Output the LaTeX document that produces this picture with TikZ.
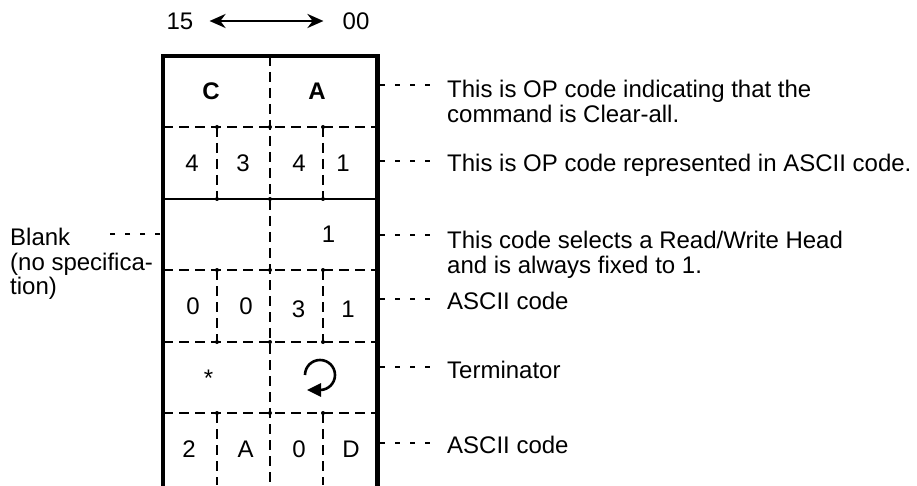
\documentclass[tikz,border=0pt]{standalone}
\usepackage{fontspec}
\setmainfont{Liberation Sans}
\usetikzlibrary{arrows.meta, positioning, calc}
\newcommand{\bigtext}{\fontsize{24}{24.5}\selectfont}
\newcommand{\crosspt}[2]{% x, y
    \fill (#1,#2) circle (2pt);
}

\begin{document}
\begin{tikzpicture}[x=1pt, y=1pt,
    frame/.style={line width=4.5pt, line join=miter},
    cellrule/.style={line width=2.4pt, dash pattern=on 10pt off 6pt},
    fullrule/.style={line width=2.2pt},
    leader/.style={line width=2pt, dash pattern=on 5pt off 10pt},
    cell/.style={font=\bigtext, inner sep=0pt},
    note/.style={font=\bigtext, align=left, inner sep=0pt, anchor=north west},
    arr/.style={{Stealth[length=16pt, width=14pt]}-{Stealth[length=16pt, width=14pt]}, line width=2.6pt},
    turnarr/.style={-{Triangle[length=14pt, width=13pt]}, line width=2.6pt}
]
\useasboundingbox (0,0) rectangle (917,485);

% ===================================================================
% BIT ORDER (top)
% ===================================================================
\node[cell] (msb) at (180,464) {15};
\node[cell] (lsb) at (356,464) {00};
\draw[arr, shorten <=16pt, shorten >=19pt] (msb) -- (lsb);

% ===================================================================
% FRAME AND RULES
% ===================================================================
\draw[frame] (163,-3) -- (163,429) -- (377.5,429) -- (377.5,-3);

% Horizontal rules
\foreach \y in {358,215,143,72} {
    \draw[cellrule] (163,\y) -- (377.5,\y);
}
\draw[fullrule] (163,286) -- (377.5,286);

% Middle divider
\draw[cellrule] (270,429) -- (270,0);
% Quarter dividers (rows with four characters)
\foreach \top/\bot in {358/286, 215/143, 72/0} {
    \draw[cellrule] (217,\top) -- (217,\bot);
    \draw[cellrule] (323,\top) -- (323,\bot);
}

% Joints
\foreach \y in {358,286,215,143,72} {
    \crosspt{217}{\y}
    \crosspt{270}{\y}
    \crosspt{323}{\y}
}

% ===================================================================
% CELL CONTENTS
% ===================================================================
\node[cell, font=\bigtext\bfseries] (opc) at (211,394) {C};
\node[cell, font=\bigtext\bfseries] (opa) at (317,394) {A};

\node[cell] (r2a) at (192,322) {4};
\node[cell] (r2b) at (243,322) {3};
\node[cell] (r2c) at (299,322) {4};
\node[cell] (r2d) at (343,322) {1};

\node[cell] (head) at (328.5,251) {1};

\node[cell] (r4a) at (193,179) {0};
\node[cell] (r4b) at (246,179) {0};
\node[cell] (r4c) at (298.5,176) {3};
\node[cell] (r4d) at (348,176) {1};

\node[cell] (star) at (208.5,107) {*};
\coordinate (turn) at (320,110);
\draw[turnarr] (turn) ++(180:15) arc[start angle=180, end angle=-90, radius=15] -- ++(-13,0);

\node[cell] (r6a) at (189,35.5) {2};
\node[cell] (r6b) at (245.5,35.5) {A};
\node[cell] (r6c) at (299,35.5) {0};
\node[cell] (r6d) at (351,35.5) {D};

% ===================================================================
% ANNOTATIONS (right)
% ===================================================================
\coordinate (e1) at (380,400); \coordinate (l1) at (435,400);
\coordinate (e2) at (380,324); \coordinate (l2) at (435,324);
\coordinate (e3) at (380,250); \coordinate (l3) at (435,250);
\coordinate (e4) at (380,186); \coordinate (l4) at (435,186);
\coordinate (e5) at (380,118); \coordinate (l5) at (435,118);
\coordinate (e6) at (380,42);  \coordinate (l6) at (435,42);
\foreach \i in {1,...,6} {
    \draw[leader] (e\i) -- (l\i);
}

\node[note] (n1) at (447,405) {This is OP code indicating that the\\command is Clear-all.};
\node[note] (n2) at (447,331) {This is OP code represented in ASCII code.};
\node[note] (n3) at (447,254) {This code selects a Read/Write Head\\and is always fixed to 1.};
\node[note] (n4) at (447,193) {ASCII code};
\node[note] (n5) at (447,124) {Terminator};
\node[note] (n6) at (447,49)  {ASCII code};

% ===================================================================
% ANNOTATION (left)
% ===================================================================
\coordinate (eb) at (160,251);
\coordinate (lb) at (105,251);
\draw[leader] (eb) -- (lb);
\node[note] (blank) at (10,257) {Blank\\(no specifica-\\tion)};

\end{tikzpicture}
\end{document}
